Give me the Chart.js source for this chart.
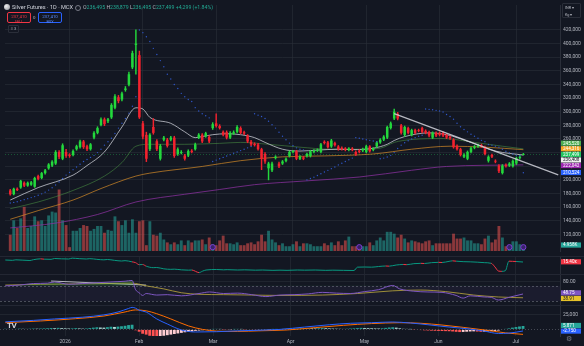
<!DOCTYPE html>
<html>
<head>
<meta charset="utf-8">
<title>Silver Futures · 1D · MCX</title>
<script src="https://cdn.jsdelivr.net/npm/chart.js@4.4.0/dist/chart.umd.min.js"></script>
<style>
  html, body { margin: 0; padding: 0; background: #131722; }
  body { width: 584px; height: 346px; overflow: hidden; position: relative; font-family: Roboto, "Noto Sans", sans-serif; color: #d1d4dc; }
  canvas { position: absolute; left: 0; }
  .abs { position: absolute; white-space: nowrap; line-height: 1; }
  .sep { position: absolute; left: 0; width: 584px; height: 1px; background: #232733; }
  .title { font-size: 5.6px; color: #d1d4dc; }
  .ohlc { font-size: 5.2px; color: #22ab94; }
  .ohlc b { font-weight: normal; color: #b2b5be; }
  .box { border-radius: 2px; text-align: center; font-size: 4.4px; box-sizing: border-box; padding-top: 1.5px; }
  .box span { display: block; font-size: 3.8px; margin-top: 1px; }
</style>
</head>
<body>
<canvas id="priceChart" width="584" height="256" style="top:0"></canvas>
<canvas id="trendChart" width="584" height="18" style="top:256px"></canvas>
<canvas id="rsiChart" width="584" height="31" style="top:274px"></canvas>
<canvas id="macdChart" width="584" height="41" style="top:305px"></canvas>
<div class="sep" style="top:256px"></div>
<div class="sep" style="top:274px"></div>
<div class="sep" style="top:305px"></div>

<div class="abs" style="left:4px;top:4px;width:6px;height:6px;border-radius:50%;background:radial-gradient(circle at 35% 35%,#f0f0f0,#8a8d96)"></div>
<div class="abs title" style="left:12px;top:4.6px">Silver Futures · 1D · MCX</div>
<div class="abs" style="left:75px;top:4.8px;width:4px;height:4px;border:1px solid #787b86;border-radius:50%"></div>
<div class="abs ohlc" style="left:83px;top:5px"><b>O</b>236,495 <b>H</b>238,879 <b>L</b>236,495 <b>C</b>237,499 +4,299 (+1.84%)</div>
<div class="abs box" style="left:7px;top:12px;width:24px;height:11px;border:1px solid #f23645;color:#f23645">237,410<span>SELL</span></div>
<div class="abs" style="left:33px;top:15.5px;font-size:4.4px;color:#b2b5be">0</div>
<div class="abs box" style="left:38px;top:12px;width:24px;height:11px;border:1px solid #2962ff;color:#5b8cff">237,410<span>BUY</span></div>
<div class="abs" style="left:8px;top:25px;width:9px;height:6px;border:1px solid #2a2e39;border-radius:1px;font-size:4px;color:#b2b5be;text-align:center;line-height:6px">&#8801; 3</div>
<div class="abs" style="left:562px;top:3px;width:19px;height:15px;border:1px solid #2a2e39;border-radius:1px;font-size:3.8px;color:#b2b5be;line-height:7px;padding-left:2px;box-sizing:border-box">INR &#9662;<br>Kg &#9662;</div>
<div class="abs" style="left:7px;top:322px;font-size:8px;font-weight:bold;color:#d1d4dc;letter-spacing:-0.5px">TV</div>
<div class="abs" style="left:566px;top:336px;font-size:7px;color:#787b86">&#9881;</div>

<script>
// ---- data (prices in thousands of INR, volume in thousands of lots) ----
const monthBars = [17, 38, 59, 81, 102, 123, 145];
const monthNames = ['2026', 'Feb', 'Mar', 'Apr', 'May', 'Jun', 'Jul'];

const opens = [184.5,179,187,188.7,195.8,191.5,193,190,205.6,202.8,
  209.9,216.9,221,224,240.9,231,240.9,236.7,236.7,245,
  248,256.4,249.4,245,262,269,280.4,288.8,286,291.7,
  305.8,321.3,318,332,339.6,365,398,383,283,266,
  245,277.6,256.8,231,259,259,259,262,238,239.5,
  235.7,235.7,242.7,245,262,266.3,264,263,276,283,
  279,270.5,270,262,268,270.5,276,270,265,256,
  253,252,245,238,217,214,232,224,224,228,
  235,241,242,231,233,235,235,241,243,241,
  256,255,249,254,249,247,246,244,246,241,
  243,243,241,249,244,249,255,259,262,276,
  290,297,280,266,276,266,273,273,276,272,
  270,262,269,269,269,266,263,259,250,245,
  234,231,241,247,249,251,248,228,236.7,228,
  221,210,222,221,220,224,232,236.495];
const highs = [186,188,188.5,199.5,197,197,198,204,207,211,
  215.5,224,228.5,243,243,253,245,238.5,244,251,
  258.5,258,251,253.5,271,278,291,291,290.5,312,
  325,324,329,337,358,389,420,389,286,270,
  268,290,259,252,264,261,264,264,247,243,
  237.5,244,244.5,254,268,268,270,265,284,297,
  281,272,272,271,272,279.5,278,271.5,266.5,258,
  254.5,253.5,246.5,240,226,226,235.5,226,228.5,232.5,
  242.5,243.5,243.5,235.5,234.5,239.5,243.5,244.5,245.5,253.5,
  257.5,256.5,259.5,255.5,250.5,248.5,247.5,247.5,247.5,242.5,
  244.5,246.5,251,250.5,247.5,256.5,260.5,265,279,285,
  304,299,281.5,279,277.5,274.5,274.5,274.5,277.5,273.5,
  271.5,270.5,270.5,270.5,270.5,267.5,264.5,260.5,251.5,246.5,
  238.5,242.5,248,250.5,252.5,252.5,249.5,235.5,238,229.5,
  222.5,222.5,223.5,225.5,229.5,233.5,235.5,238.879];
const lows = [177.5,178,184,187.5,190,190.5,192,189,200,201.5,
  208.5,215.5,219.5,222.5,231,229.5,233,233,235,243.5,
  246.5,246,243,243.5,260,267.5,279,279.5,284,290,
  304,313,316,330,338,363,355,290,260,226.8,
  243,267,243,229,257,248,257,233,236,238,
  229,234,239.5,243.5,260.5,254.5,262.5,254.5,274,277.5,
  274.5,264.5,260,260.5,266.5,269,267.5,266.5,254.5,250,
  249.5,243.5,215,224,200,212,230.5,218,222.5,226.5,
  233.5,239.5,229.5,229.5,229.5,233.5,233.5,239.5,241.5,239.5,
  252.5,246.5,247.5,249.5,243.5,243.5,242.5,242.5,242.5,235.5,
  239.5,241.5,239.5,240.5,242.5,247.5,253.5,257.5,260.5,274.5,
  288.5,288,267,264,267.5,264.5,267.5,270.5,269,267.5,
  263,260.5,263.5,264.5,263.5,260.5,259.5,246.5,243.5,235,
  232.5,229.5,239.5,245.5,247.5,247.5,236.5,226,232.5,225,
  210.5,208.5,218.5,219.5,218.5,222.5,230.5,236.495];
const closes = [178.9,187,185,198.6,191.5,195.8,196.5,202.8,201.4,209.9,
  214,222.6,226.8,240.9,233.8,250.8,235.2,235.2,242.3,249.4,
  256.4,248,245,252.2,269.1,276,288.8,281.8,288.8,310,
  322.7,315.6,326.9,334,355,386,400,291.7,263.5,231,
  266.3,269,245,250,262,249.8,262,235,245,241,
  231,242.3,241,252.2,266.3,256.4,268.5,256.4,281.7,279,
  276,266.3,262,269,270,277.6,269,268,256.4,252,
  251,245,231,227,224,224,234,219.7,227,231,
  241,242.3,231,234,231,238,242,243,244,252.2,
  254,248,257.8,251,245,245,244,246,244,237,
  241,245,249.4,242,246,255,259,263.5,277.6,283,
  300,290,269,277.6,269,273,269,272,270.5,269,
  265,269,265,266,265,262,261,248,245,236.7,
  237,241,246.5,249,251,249,238,234,234,226.8,
  212.7,221,220,224,228,232,234,237.499];
const volumes = [14.0,26.4,19.8,28.1,38.0,19.8,21.5,29.8,25.6,26.4,
  21.5,30.6,33.9,33.1,52.9,26.4,22.3,3.3,17.4,17.4,
  19.8,22.3,21.5,17.4,19.0,21.5,21.5,15.7,18.2,17.4,
  29.8,25.6,22.3,26.4,15.7,27.3,15.7,25.6,26.4,5.0,
  25.6,14.0,13.2,15.7,9.9,7.4,5.8,7.4,5.8,9.1,
  5.0,9.1,7.4,9.1,9.1,9.9,5.8,11.6,5.8,5.0,
  9.1,13.2,6.6,6.6,5.8,7.4,5.0,5.0,6.6,7.4,
  5.8,8.3,14.0,8.3,17.4,9.9,7.4,5.0,6.6,4.1,
  4.1,5.8,8.3,4.1,6.6,6.6,5.8,4.1,4.1,4.1,
  6.6,5.0,7.4,5.0,8.3,5.0,9.1,12.4,4.1,4.1,
  2.5,4.1,4.1,7.4,5.0,9.1,11.6,9.1,16.5,16.5,
  14.9,11.6,14.0,10.7,7.4,9.1,8.3,7.4,6.6,8.3,
  9.1,5.0,6.6,6.6,6.6,6.6,6.6,14.9,10.7,10.7,
  11.6,9.1,9.1,6.6,6.6,5.8,10.7,13.2,7.4,9.9,
  21.5,11.6,4.1,4.1,8.3,8.3,5.8,4.958];
const sarValues = [166,167,168,169.5,171,172.5,174,175.5,177.5,179.5,
  182,185,188.5,192.5,197,202,207,211,215,219,
  223,227,230,233,236,240,245,251,256,261,
  268,276,283,290,298,308,322,420,416,410,
  403,393,384,375,366,355,348,340,334,327,
  322,318,315,306,301,297,294,291,227,229,
  231,233,235,237,239,241,243,245,247,249,
  297,295,293,290,286,281,276,270,264,259,
  254,250,247,245,244,200,202,204,206.5,209,
  211.5,214,216.5,219,222,224.5,227,229.5,232,262,
  261,260,259,258,257,256,231,232,233.5,236,
  240,246,251,254.5,257.5,260,262,264,265.5,304,
  303.5,303,302,301,299.5,296,293,289,283,278,
  274,270.5,267,264,261,258,256,252,251,249.5,
  248,245,242,240,238,236,235.5,210.5];
const eventBars = [58, 100, 143, 147];

// moving averages at selected bars: [bar, price]
const sma20Pts = [[0,170.4],[8,188.7],[18,207],[22,221],[27,241],[32,277.6],[36,305.8],[38,304],[40,291.7],[46,283],[50,270.5],[53,262],[55,263.5],[58,266.3],[62,267.7],[66,266.3],[70,262],[73,255],[78,245],[83,242.3],[88,243.7],[94,245],[98,244.4],[104,246.5],[108,252.2],[110,257.8],[113,263.5],[120,269],[125,266.3],[132,255],[139,242.3],[147,236.408]];
const sma50Pts = [[0,157.7],[8,167.6],[18,184.5],[27,205.6],[32,225.4],[36,249.4],[40,252.2],[50,252.2],[60,253.6],[66,255],[74,252.2],[83,248],[92,245],[100,245],[106,246.5],[110,255],[115,259.2],[124,260.6],[133,255],[141,249.4],[147,245.52]];
const sma100Pts = [[0,142.2],[8,154.9],[18,170.4],[26,187.3],[36,205.6],[40,209.9],[55,219.7],[66,228.2],[78,233.8],[90,235.2],[104,238],[115,245],[126,249.4],[136,248],[147,244.316]];
const sma200Pts = [[0,129.5],[13,136.6],[25,149.2],[36,167.6],[50,178.9],[60,185.9],[70,193],[85,198.6],[100,204.2],[115,214.1],[125,219.7],[147,222.042]];
const trendLinePts = [[110,297.3],[157,207.3]];

// oscillator panes
const ratioPts = [[0,16.6],[2,16.4],[3,16.7],[5,16.5],[7,16.3],[8,16.8],[10,17.3],[11,17.1],[13,17.0],[14,17.5],[16,17.3],[18,17.2],[19,17.7],[21,17.4],[23,17.2],[24,17.4],[26,17.0],[28,16.7],[29,16.9],[31,16.4],[33,16.0],[34,16.2],[36,15.5],[37,15.0],[38,13.8],[39,13.9],[40,12.9],[42,12.0],[43,12.1],[45,11.3],[47,11.0],[48,11.1],[50,10.7],[52,10.5],[53,10.6],[54,9.8],[55,9.0],[56,9.9],[57,10.6],[60,10.9],[62,10.7],[63,10.8],[66,10.6],[68,10.7],[71,10.5],[73,10.6],[76,10.4],[78,10.5],[80,10.4],[83,10.6],[85,10.5],[88,10.6],[91,10.4],[93,10.5],[96,10.4],[99,10.3],[100,12.3],[102,12.4],[104,12.3],[106,12.7],[108,13.0],[109,12.9],[111,13.6],[113,13.9],[114,13.8],[116,14.4],[118,14.6],[119,14.5],[121,15.0],[123,15.2],[124,15.1],[126,15.8],[127,16.1],[128,15.9],[130,15.6],[132,15.5],[134,15.3],[136,15.0],[138,14.6],[139,12.5],[140,10.0],[141,9.8],[142,10.2],[143,15.9],[144,15.8],[145,15.7],[147,15.4]];
const rsiPts = [[0,70],[4,72],[8,76],[12,77],[14,80],[18,74],[22,76],[26,78],[30,80],[34,82],[36,84],[37,60],[38,52],[39,45],[40,50],[43,46],[46,47],[50,44],[55,50],[58,54],[62,50],[66,51],[70,47],[74,42],[78,46],[82,47],[86,49],[90,53],[94,51],[98,50],[102,55],[106,60],[110,71],[112,62],[116,56],[120,54],[124,53],[128,45],[130,38],[132,44],[136,41],[138,40],[140,33],[143,40],[147,48.75]];
const rsiMaPts = [[0,72],[10,74],[20,75],[30,76],[36,77],[40,70],[45,62],[50,52],[55,48],[62,47],[70,46],[78,45],[90,46],[100,50],[110,57],[118,59],[125,55],[133,46],[140,41],[147,38.91]];
const rsiDivPts = [[13,82.5],[40,72]];
const macdPts = [[0,13],[8,15.5],[14,18],[22,21],[28,25],[32,30],[35,36],[36,38],[37,36.5],[38,33],[40,29.9],[43,18],[46,9.3],[50,-1],[54,-4.5],[60,-4],[66,-2.5],[72,-1.5],[78,0],[85,4],[92,8],[98,10.5],[104,11.5],[110,12.7],[115,11],[120,8],[126,4],[132,0.5],[136,-3],[140,-7],[143,-6.5],[147,-2.75]];
const signalPts = [[0,11.5],[10,14.5],[20,18.5],[28,23],[34,30],[37,33.5],[40,32],[43,27],[47,18],[52,6],[56,0],[60,-3],[66,-3.5],[72,-2.5],[80,-1],[88,3],[96,7],[104,10],[112,11.5],[118,10.5],[124,7.5],[130,3.5],[136,-1],[142,-6],[147,-8.6]];
const macdHist = [1.2,1.0,0.8,1.1,1.4,1.2,1.0,1.3,1.5,1.4,1.6,1.8,2.0,2.4,2.1,2.6,2.2,1.9,1.7,1.8,
  2.2,1.8,1.5,1.7,2.4,3.0,3.6,3.2,3.0,3.8,4.6,4.2,4.8,5.4,6.2,7.4,8.0,
  -1.5,-4,-7.5,-9,-11,-12,-12.5,-12,-11,-10,-9,-8,-7,-6,-5,-4,
  -3.5,-2.5,-2,-1.5,-1,-0.5,0.3,0.6,0.4,-0.3,-0.6,-0.4,0.2,0.5,0.3,-0.4,-0.8,-1.2,-1.6,-1.5,-1.0,-0.6,-0.2,0.3,0.6,0.9,1.1,
  1.4,1.6,1.3,1.5,1.8,2.0,2.2,2.0,1.8,2.1,2.4,2.2,1.9,1.6,1.4,1.2,1.0,1.3,1.6,1.9,2.3,2.6,2.4,2.2,2.0,1.8,1.7,2.0,2.6,3.2,3.6,3.0,2.0,1.2,0.6,0.2,
  -0.4,-0.8,-1.2,-1.6,-1.9,-2.2,-2.4,-2.6,-2.8,-3.0,-3.2,-3.6,-4.2,-4.6,-4.4,-4.0,-3.6,-3.4,-3.8,-4.2,-3.9,-3.5,-3.0,-2.6,-2.0,-0.8,0.6,1.8,3.0,4.0,5.0,5.871];

// ---- layout helpers ----
const GRID = 'rgba(42,46,57,0.6)';
const TEXT = '#b2b5be';
const UP = '#23d83c', DOWN = '#f2222e';
const LEAD = 1, TRAIL = 10;
const SLOTS = LEAD + closes.length + TRAIL;
const labels = Array.from({ length: SLOTS }, (_, i) => i);
const monthSlots = monthBars.map(b => b + LEAD);
const pad = arr => [...Array(LEAD).fill(null), ...arr, ...Array(TRAIL).fill(null)];
const sparse = pts => {
  const out = Array(SLOTS).fill(null);
  pts.forEach(([k, v]) => { out[k + LEAD] = v; });
  return out;
};
const isUp = opens.map((o, i) => closes[i] >= o);

Chart.defaults.font.family = 'Roboto, "Noto Sans", sans-serif';
Chart.defaults.font.size = 5;
Chart.defaults.color = TEXT;
Chart.defaults.animation = false;
Chart.defaults.plugins.legend.display = false;
Chart.defaults.plugins.tooltip.enabled = false;

// horizontal guide lines / bands in a pane
const guides = {
  id: 'guides',
  beforeDatasetsDraw(chart, args, opts) {
    const { ctx, chartArea: a } = chart;
    const y = chart.scales.y;
    ctx.save();
    (opts.bands || []).forEach(b => {
      const y1 = y.getPixelForValue(b.from), y2 = y.getPixelForValue(b.to);
      ctx.fillStyle = b.color;
      ctx.fillRect(a.left, Math.min(y1, y2), a.width, Math.abs(y2 - y1));
    });
    (opts.lines || []).forEach(l => {
      const py = Math.round(y.getPixelForValue(l.value)) + 0.5;
      ctx.strokeStyle = l.color;
      ctx.lineWidth = 1;
      ctx.setLineDash(l.dash || []);
      ctx.beginPath();
      ctx.moveTo(a.left, py);
      ctx.lineTo(a.right, py);
      ctx.stroke();
    });
    ctx.restore();
  }
};

// coloured last-value tags on the price scale, spread apart where they overlap
const axisTags = {
  id: 'axisTags',
  afterDraw(chart, args, opts) {
    const tags = opts.tags || [];
    if (!tags.length) return;
    const { ctx, chartArea: a } = chart;
    const h = 5.6;
    const items = tags
      .map(t => Object.assign({}, t, { y: chart.scales[t.axis || 'y'].getPixelForValue(t.value) }))
      .sort((p, q) => p.y - q.y);
    let groups = items.map(it => ({ list: [it], c: it.y }));
    let merged = true;
    while (merged) {
      merged = false;
      for (let i = 0; i < groups.length - 1; i++) {
        const g = groups[i], n = groups[i + 1];
        if (g.c + g.list.length * h / 2 > n.c - n.list.length * h / 2) {
          const list = g.list.concat(n.list);
          const c = list.reduce((s, it) => s + it.y, 0) / list.length;
          groups.splice(i, 2, { list, c });
          merged = true;
          break;
        }
      }
    }
    ctx.save();
    ctx.font = '4.6px Roboto, "Noto Sans", sans-serif';
    ctx.textBaseline = 'middle';
    groups.forEach(g => {
      let top = g.c - g.list.length * h / 2;
      g.list.forEach(it => {
        ctx.fillStyle = it.bg;
        ctx.fillRect(a.right + 1, top, 20, h - 0.4);
        ctx.fillStyle = it.fg || '#ffffff';
        ctx.fillText(it.text, a.right + 3, top + h / 2);
        top += h;
      });
    });
    ctx.restore();
  }
};
Chart.register(guides, axisTags);

// tick labels must not shrink the plot area: panes sit edge to edge
const noEdgePadding = axis => {
  axis.paddingTop = 0; axis.paddingBottom = 0;
  axis.paddingLeft = 0; axis.paddingRight = 0;
};

function xAxis(showLabels) {
  return {
    type: 'category',
    offset: true,
    grid: {
      offset: false,
      drawTicks: false,
      color: c => monthSlots.includes(c.index) ? GRID : 'transparent'
    },
    border: { display: false },
    ticks: {
      display: showLabels,
      autoSkip: false,
      maxRotation: 0,
      padding: 3,
      color: TEXT,
      callback: (v, i) => {
        const j = monthSlots.indexOf(i);
        return j >= 0 ? monthNames[j] : '';
      }
    },
    afterFit: axis => { axis.height = showLabels ? 10 : 0; noEdgePadding(axis); }
  };
}

function yAxis(min, max, step, show, fmt) {
  return {
    position: 'right',
    min, max,
    grid: {
      drawTicks: false,
      color: c => show(c.tick.value) ? GRID : 'transparent'
    },
    border: { display: true, color: '#2a2e39' },
    ticks: {
      stepSize: step,
      autoSkip: false,
      padding: 3,
      color: TEXT,
      callback: v => show(v) ? fmt(v) : ''
    },
    afterFit: axis => { axis.width = 24; noEdgePadding(axis); }
  };
}

const round20 = v => Math.abs(v - Math.round(v)) < 0.01 && Math.round(v) % 20 === 0;
const lineStyle = (color, width) => ({
  type: 'line', borderColor: color, borderWidth: width || 1, pointRadius: 0,
  spanGaps: true, tension: 0.35, cubicInterpolationMode: 'monotone', fill: false
});

// ---- price pane: candles, volume, averages, SAR, trendline ----
new Chart(document.getElementById('priceChart'), {
  type: 'bar',
  data: {
    labels,
    datasets: [
      Object.assign(lineStyle('rgba(210,212,220,0.75)', 1), { data: sparse(sma20Pts), order: 3 }),
      Object.assign(lineStyle('rgba(76,150,70,0.55)', 1), { data: sparse(sma50Pts), order: 4 }),
      Object.assign(lineStyle('rgba(214,140,40,0.7)', 1), { data: sparse(sma100Pts), order: 5 }),
      Object.assign(lineStyle('rgba(140,50,160,0.75)', 1), { data: sparse(sma200Pts), order: 6 }),
      Object.assign(lineStyle('rgba(210,212,220,0.85)', 1.2), { data: sparse(trendLinePts), tension: 0, order: 0 }),
      {
        type: 'line', data: pad(sarValues), showLine: false,
        pointRadius: 0.7, pointBackgroundColor: '#2f56c8', pointBorderWidth: 0, order: 0
      },
      {
        data: pad(lows.map((l, i) => [l, highs[i]])),
        backgroundColor: pad(isUp.map(u => u ? UP : DOWN)),
        barThickness: 0.8, grouped: false, order: 2
      },
      {
        data: pad(opens.map((o, i) => [o, closes[i]])),
        backgroundColor: pad(isUp.map(u => u ? UP : DOWN)),
        categoryPercentage: 1, barPercentage: 0.72, minBarLength: 0.7, grouped: false, order: 1
      },
      {
        data: pad(volumes), yAxisID: 'yVol',
        backgroundColor: pad(isUp.map(u => u ? 'rgba(38,166,154,0.55)' : 'rgba(239,83,80,0.55)')),
        categoryPercentage: 1, barPercentage: 0.82, grouped: false, order: 10
      },
      {
        type: 'line', data: sparse(eventBars.map(k => [k, 3.3])), yAxisID: 'yVol', showLine: false,
        pointRadius: 2.6, pointBorderWidth: 1, pointBorderColor: '#7b3fd0',
        pointBackgroundColor: 'rgba(60,30,110,0.9)', order: 0
      }
    ]
  },
  options: {
    responsive: false,
    layout: { padding: 0 },
    scales: {
      x: xAxis(false),
      y: yAxis(95.66, 456.6, 20, v => round20(v) && v >= 119 && v <= 421,
        v => Math.round(v) + ',000'),
      yVol: { display: false, min: 0, max: 211.6 }
    },
    plugins: {
      guides: { lines: [{ value: 237.499, color: 'rgba(38,200,90,0.35)', dash: [1, 2] }] },
      axisTags: {
        tags: [
          { value: 245.52, text: '245,520', bg: '#4caf50' },
          { value: 244.316, text: '244,316', bg: '#f5a623' },
          { value: 237.499, text: '237,499', bg: '#22c55e' },
          { value: 236.408, text: '236,408', bg: '#f0f0f0', fg: '#131722' },
          { value: 222.042, text: '222,042', bg: '#9c27b0' },
          { value: 210.524, text: '210,524', bg: '#2962ff' },
          { value: 4.958, text: '4.958K', bg: '#26a69a', axis: 'yVol' }
        ]
      }
    }
  }
});

// ---- second pane: ratio line (up segments green, down segments red) ----
new Chart(document.getElementById('trendChart'), {
  type: 'line',
  data: {
    labels,
    datasets: [
      Object.assign(lineStyle('#f23645', 1), {
        data: sparse(ratioPts), tension: 0,
        segment: { borderColor: c => c.p1.parsed.y >= c.p0.parsed.y ? '#089981' : '#f23645' }
      })
    ]
  },
  options: {
    responsive: false,
    layout: { padding: 0 },
    scales: {
      x: xAxis(false),
      y: yAxis(8.2, 19, 5, () => false, () => '')
    },
    plugins: {
      axisTags: { tags: [{ value: 15.4, text: '15.40x', bg: '#f23645' }] }
    }
  }
});

// ---- RSI pane ----
new Chart(document.getElementById('rsiChart'), {
  type: 'line',
  data: {
    labels,
    datasets: [
      Object.assign(lineStyle('#7e57c2', 1), {
        data: sparse(rsiPts), tension: 0.2,
        fill: { target: { value: 70 }, above: 'rgba(76,175,80,0.28)', below: 'transparent' }
      }),
      Object.assign(lineStyle('rgba(190,170,60,0.8)', 1), { data: sparse(rsiMaPts) }),
      Object.assign(lineStyle('rgba(220,220,225,0.8)', 1), { data: sparse(rsiDivPts), tension: 0 })
    ]
  },
  options: {
    responsive: false,
    layout: { padding: 0 },
    scales: {
      x: xAxis(false),
      y: yAxis(20.1, 100.8, 20, v => Math.abs(v - 80) < 0.01, v => v.toFixed(2))
    },
    plugins: {
      guides: {
        bands: [{ from: 30, to: 70, color: 'rgba(126,87,194,0.08)' }],
        lines: [
          { value: 70, color: 'rgba(120,123,134,0.55)', dash: [2, 2] },
          { value: 30, color: 'rgba(120,123,134,0.55)', dash: [2, 2] }
        ]
      },
      axisTags: {
        tags: [
          { value: 48.75, text: '48.75', bg: '#7e57c2' },
          { value: 38.91, text: '38.91', bg: '#e6c229', fg: '#131722' }
        ]
      }
    }
  }
});

// ---- MACD pane with the time axis ----
new Chart(document.getElementById('macdChart'), {
  type: 'bar',
  data: {
    labels,
    datasets: [
      Object.assign(lineStyle('#2962ff', 1), { data: sparse(macdPts), order: 1 }),
      Object.assign(lineStyle('#ff6d00', 1), { data: sparse(signalPts), order: 2 }),
      {
        data: pad(macdHist),
        backgroundColor: pad(macdHist.map((v, i) => {
          const prev = i > 0 ? macdHist[i - 1] : v;
          if (v >= 0) return v >= prev ? '#26a69a' : '#b2dfdb';
          return v <= prev ? '#ff5252' : '#ffcdd2';
        })),
        categoryPercentage: 1, barPercentage: 0.8, order: 3
      }
    ]
  },
  options: {
    responsive: false,
    layout: { padding: 0 },
    scales: {
      x: xAxis(true),
      y: yAxis(-11.4, 42, 25, v => Math.abs(v - 25) < 0.01, () => '25,000')
    },
    plugins: {
      guides: { lines: [{ value: 0, color: 'rgba(120,123,134,0.5)', dash: [1, 2] }] },
      axisTags: {
        tags: [
          { value: 5.871, text: '5.871', bg: '#26a69a' },
          { value: -2.75, text: '-2.750', bg: '#2962ff' }
        ]
      }
    }
  }
});
</script>
</body>
</html>
